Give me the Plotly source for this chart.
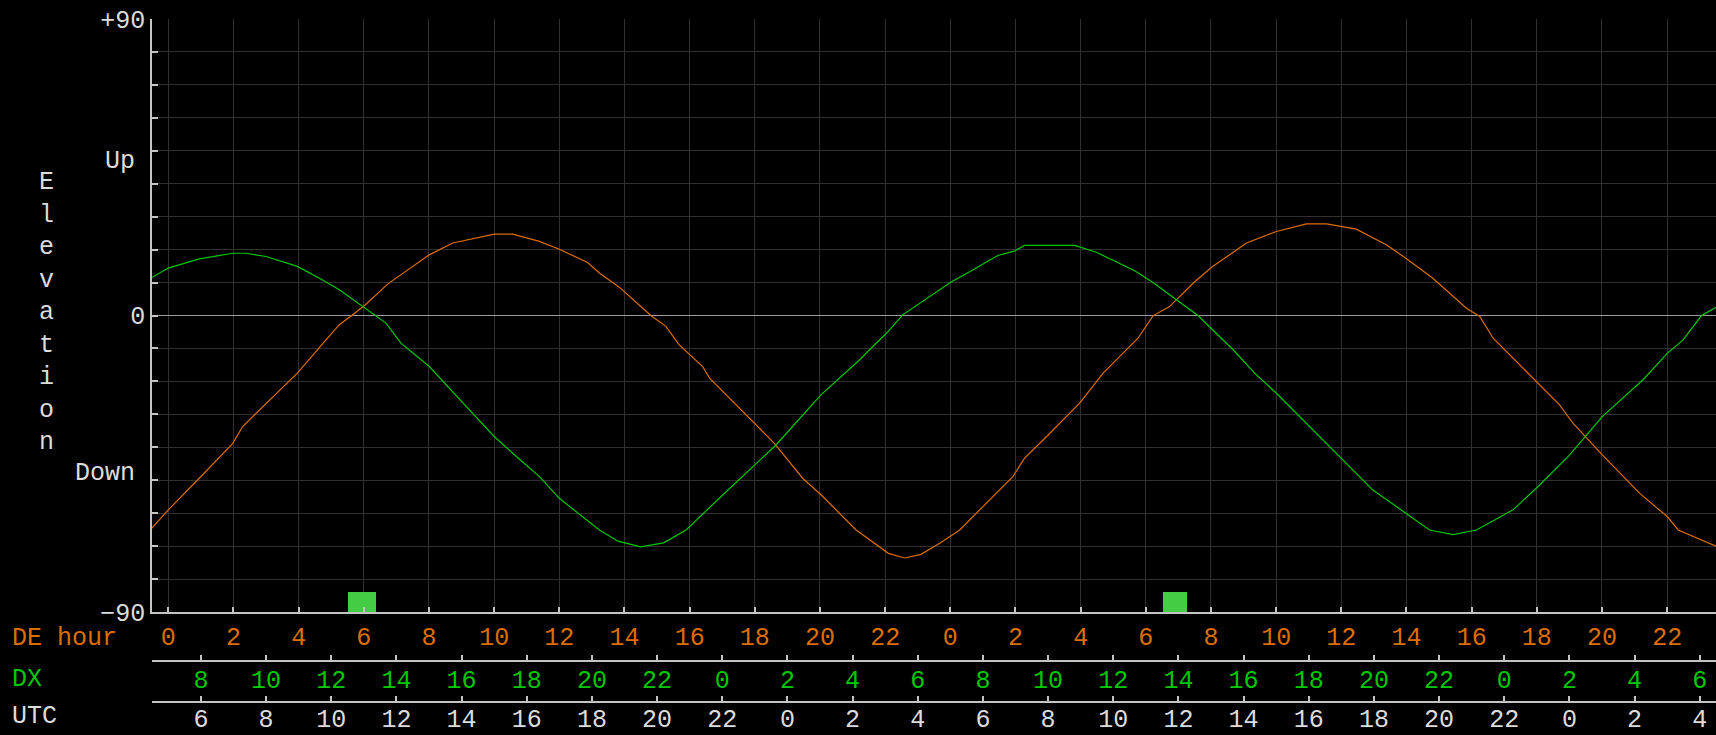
import plotly.graph_objects as go

# Elevation curves, x in DE local hours from the left edge
de_hour = [-0.51, 0.0, 0.95, 1.98, 2.28, 3.96, 4.84, 5.25, 5.66, 6.04, 6.74, 8.01, 8.73,
           10.01, 10.57, 11.39, 12.0, 12.87, 13.23, 13.84, 14.81, 15.27, 15.68, 16.4,
           16.61, 18.04, 18.6, 19.47, 20.04, 21.11, 21.7, 22.1, 22.6, 23.1, 23.7, 24.29,
           25.92, 26.28, 26.95, 27.97, 28.69, 29.76, 30.22, 30.73, 31.45, 32.03, 33.09,
           34.01, 34.93, 35.55, 36.46, 37.38, 37.98, 38.81, 39.84, 40.25, 40.66, 42.04,
           42.7, 43.11, 44.01, 45.16, 46.01, 46.34, 46.9, 47.5]
de_elev = [-64.6, -59.0, -49.4, -38.8, -33.7, -17.5, -7.4, -2.8, 0.2, 3.2, 9.6, 18.4, 22.0,
           24.7, 24.7, 22.5, 20.1, 16.1, 12.9, 8.6, 0.0, -3.3, -8.9, -15.5,
           -19.0, -33.2, -38.8, -49.4, -54.5, -65.1, -69.5, -72.2, -73.6, -72.5, -69.0, -65.1,
           -48.9, -43.3, -36.8, -26.6, -17.5, -6.9, -0.1, 2.7, 9.8, 14.7, 22.0,
           25.5, 27.8, 27.8, 26.2, 21.5, 17.4, 11.3, 2.2, -0.3, -6.9, -20.4,
           -27.1, -32.7, -42.3, -54.0, -61.1, -65.1, -67.5, -70.0]

dx_hour = [-0.51, 0.0, 0.95, 1.98, 2.38, 3.0, 3.96, 4.64, 5.25, 6.04, 6.68, 7.14, 8.01,
           9.34, 10.01, 10.57, 11.39, 12.0, 13.23, 13.8, 14.5, 15.2, 15.89, 17.12, 18.65,
           20.03, 21.21, 21.62, 22.01, 22.54, 23.67, 24.0, 24.7, 25.46, 25.98, 26.28,
           27.82, 28.48, 29.66, 30.22, 30.94, 31.6, 32.68, 33.34, 34.01, 35.95, 36.97,
           37.98, 38.71, 39.43, 40.15, 41.27, 42.04, 43.01, 44.01, 45.26, 46.01, 46.49,
           47.05, 47.5]
dx_elev = [11.5, 14.4, 17.2, 18.9, 18.9, 17.9, 14.9, 11.3, 7.8, 2.2, -2.3, -8.4, -15.5,
           -29.7, -36.8, -41.8, -48.9, -55.5, -65.1, -68.5, -70.2, -69.0, -65.1, -53.5, -39.3,
           -24.1, -13.5, -9.4, -5.7, 0.2, 7.9, 10.0, 13.9, 18.2, 19.6, 21.3,
           21.3, 19.2, 13.6, 10.0, 4.8, 0.0, -10.4, -17.5, -23.6, -42.8, -53.0,
           -60.0, -65.1, -66.5, -65.1, -59.0, -51.9, -42.3, -30.7, -19.5, -11.4, -7.4,
           -0.1, 2.5]

# Common windows (DE hours)
window_start = [5.53, 30.52]
window_end = [6.36, 31.26]

# Time scale labels
de_tick_pos = [0, 2, 4, 6, 8, 10, 12, 14, 16, 18, 20, 22,
               24, 26, 28, 30, 32, 34, 36, 38, 40, 42, 44, 46]
de_tick_text = [0, 2, 4, 6, 8, 10, 12, 14, 16, 18, 20, 22,
                0, 2, 4, 6, 8, 10, 12, 14, 16, 18, 20, 22]
row_tick_pos = [1, 3, 5, 7, 9, 11, 13, 15, 17, 19, 21, 23,
                25, 27, 29, 31, 33, 35, 37, 39, 41, 43, 45, 47]
dx_tick_text = [8, 10, 12, 14, 16, 18, 20, 22, 0, 2, 4, 6,
                8, 10, 12, 14, 16, 18, 20, 22, 0, 2, 4, 6]
utc_tick_text = [6, 8, 10, 12, 14, 16, 18, 20, 22, 0, 2, 4,
                 6, 8, 10, 12, 14, 16, 18, 20, 22, 0, 2, 4]

elev_ticks = list(range(-90, 91, 10))
elev_text = {90: "+90", 0: "0", -90: "\u221290"}

W, H = 1716, 735
ML, MT = 152, 19
PLOT_BOTTOM = 612
FONT = "Liberation Mono"
FS = 25
ORANGE = "#dc6e00"
GREEN = "#00c800"
TEXT = "#dcdcdc"
GRID = "#303030"
AXIS = "#c4c4c4"


def py(px):
    """page pixel row -> paper y"""
    return (H - px) / (H - MT)


fig = go.Figure()

fig.add_trace(go.Bar(
    x=[(a + b) / 2 for a, b in zip(window_start, window_end)],
    width=[b - a for a, b in zip(window_start, window_end)],
    y=[6] * len(window_start), base=-90,
    marker=dict(color="#44cc44", line=dict(width=0)),
    hoverinfo="skip", showlegend=False,
))
fig.add_trace(go.Scatter(x=de_hour, y=de_elev, mode="lines",
                         line=dict(color=ORANGE, width=1.2), name="DE", showlegend=False))
fig.add_trace(go.Scatter(x=dx_hour, y=dx_elev, mode="lines",
                         line=dict(color=GREEN, width=1.2), name="DX", showlegend=False))

xr = [-0.5, 47.5]
common_x = dict(range=xr, showgrid=False, zeroline=False, showline=True,
                linecolor=AXIS, linewidth=1.5, ticks="inside", ticklen=5,
                tickcolor=AXIS, tickwidth=1.5, fixedrange=True, automargin=False)

fig.update_layout(
    template="none",
    width=W, height=H,
    margin=dict(l=ML, r=0, t=MT, b=0, pad=0),
    paper_bgcolor="black", plot_bgcolor="black",
    font=dict(family=FONT, size=FS, color=TEXT),
    bargap=0,
    xaxis=dict(
        range=xr, showgrid=True, gridcolor=GRID, gridwidth=1.3, zeroline=False,
        showline=True, linecolor=AXIS, linewidth=1.5, ticks="inside", ticklen=5,
        tickcolor=AXIS, tickwidth=1.5, tickvals=de_tick_pos,
        ticktext=[str(v) for v in de_tick_text],
        tickfont=dict(color=ORANGE, size=FS, family=FONT),
        ticklabelstandoff=1, fixedrange=True, automargin=False,
    ),
    xaxis2=dict(
        common_x, overlaying="x", anchor="free", position=py(660.5),
        tickvals=row_tick_pos, ticktext=[str(v) for v in dx_tick_text],
        tickfont=dict(color=GREEN, size=FS, family=FONT), ticklabelstandoff=-3,
    ),
    xaxis3=dict(
        common_x, overlaying="x", anchor="free", position=py(701.5),
        tickvals=row_tick_pos, ticktext=[str(v) for v in utc_tick_text],
        tickfont=dict(color=TEXT, size=FS, family=FONT), ticklabelstandoff=-5,
    ),
    yaxis=dict(
        range=[-90, 90], domain=[py(PLOT_BOTTOM), 1],
        showgrid=True, gridcolor=GRID, gridwidth=1.3,
        zeroline=True, zerolinecolor="#9c9c9c", zerolinewidth=1,
        showline=True, linecolor=AXIS, linewidth=1.5,
        ticks="inside", ticklen=6, tickcolor=AXIS, tickwidth=1.5,
        tickvals=elev_ticks, ticktext=[elev_text.get(v, "") for v in elev_ticks],
        tickfont=dict(color=TEXT, size=FS, family=FONT), fixedrange=True,
        automargin=False,
    ),
)

# Empty traces so the extra time axes are drawn
fig.add_trace(go.Scatter(x=[None], y=[None], xaxis="x2", showlegend=False, hoverinfo="skip"))
fig.add_trace(go.Scatter(x=[None], y=[None], xaxis="x3", showlegend=False, hoverinfo="skip"))

base_ann = dict(showarrow=False, xref="paper", x=0)
ann = [
    dict(base_ann, text="Up", xshift=-15, xanchor="right", yref="y", y=46.6,
         yanchor="middle", font=dict(color=TEXT)),
    dict(base_ann, text="Down", xshift=-15, xanchor="right", yref="y", y=-47.9,
         yanchor="middle", font=dict(color=TEXT)),
    dict(base_ann, text="<br>".join("Elevation"), xshift=46.7 - ML, xanchor="center",
         yref="y", y=1.0, yanchor="middle", align="center", font=dict(color=TEXT)),
    dict(base_ann, text="DE hour", xshift=10 - ML, xanchor="left",
         yref="paper", y=py(638), yanchor="middle", font=dict(color=ORANGE)),
    dict(base_ann, text="DX", xshift=10 - ML, xanchor="left",
         yref="paper", y=py(679), yanchor="middle", font=dict(color=GREEN)),
    dict(base_ann, text="UTC", xshift=10 - ML, xanchor="left",
         yref="paper", y=py(716.5), yanchor="middle", font=dict(color=TEXT)),
]
fig.update_layout(annotations=ann)

fig.write_html("out.html", config={"displayModeBar": False})
